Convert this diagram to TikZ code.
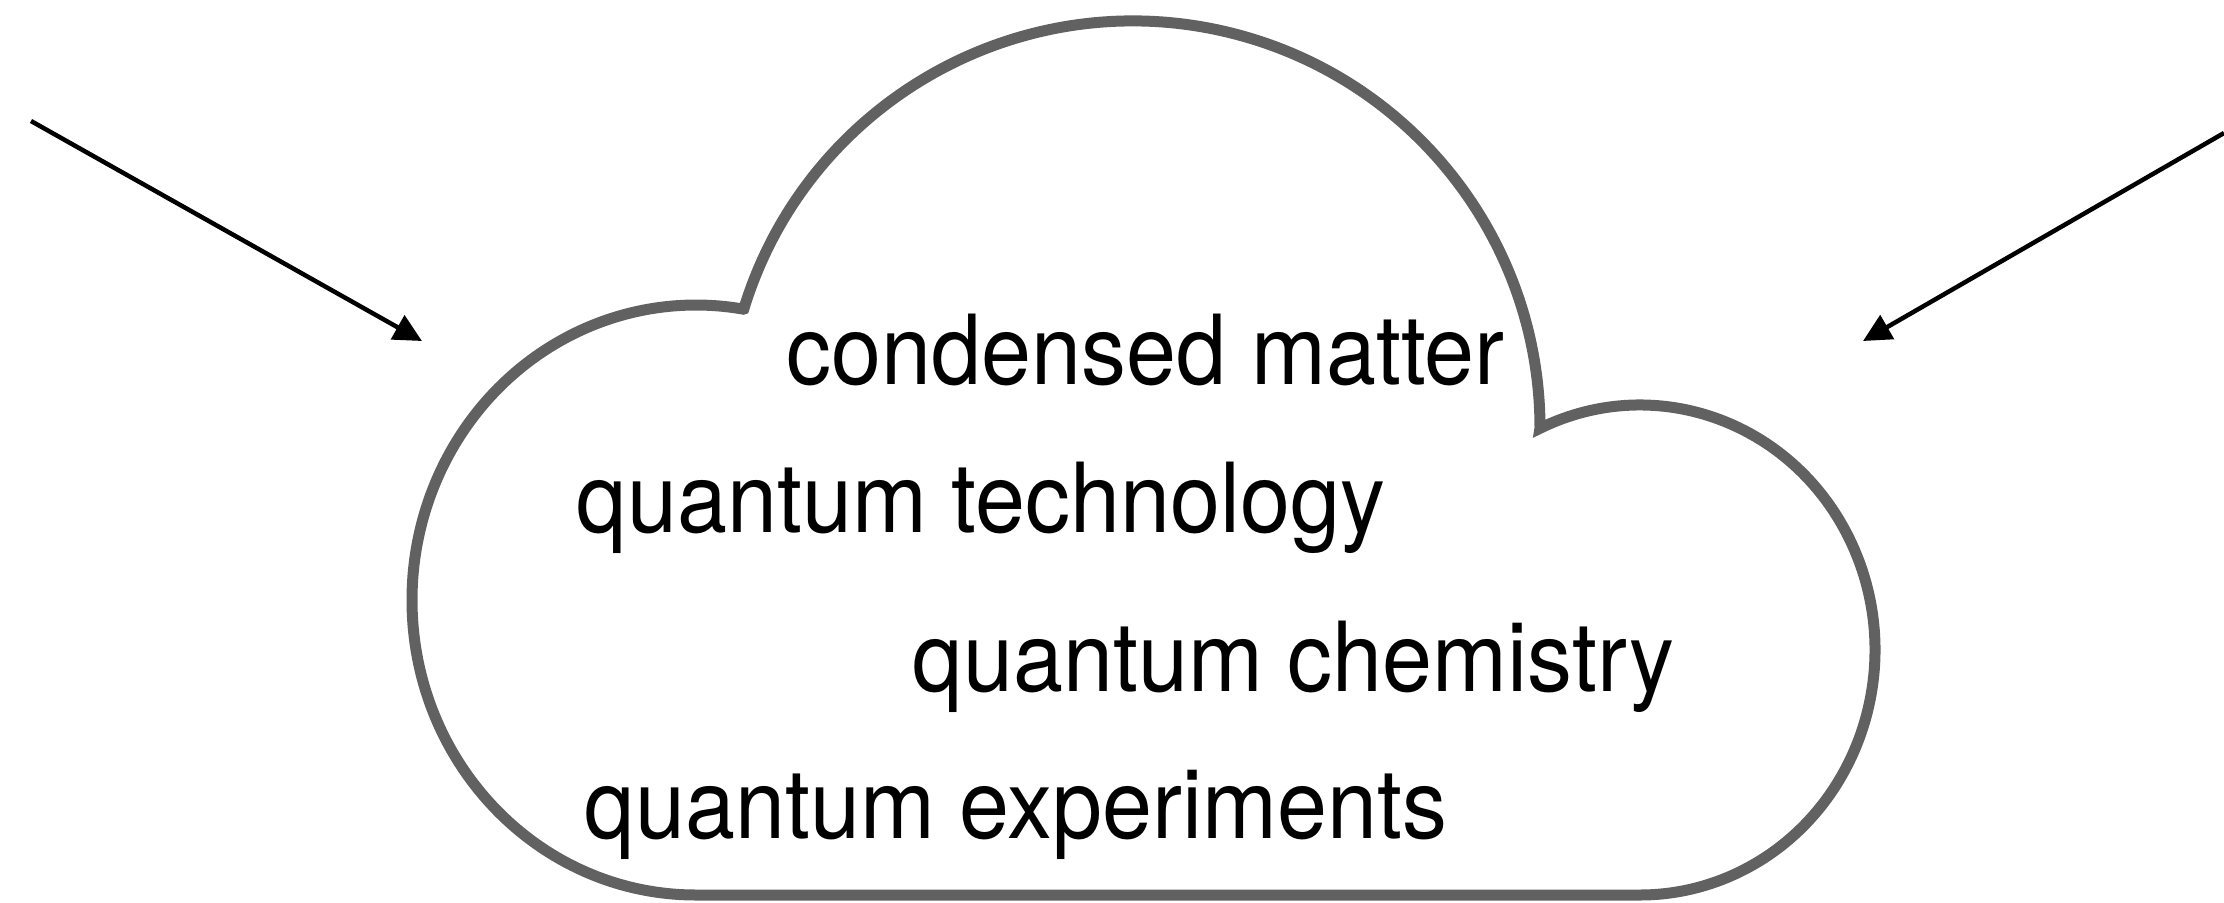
\documentclass[tikz,border=0pt]{standalone}
\usepackage{fontspec}
\setmainfont{TeX Gyre Heros}[FakeStretch=0.93]
\usepackage{tikz}
\usetikzlibrary{arrows.meta}
\definecolor{cloudgray}{HTML}{616161}

\begin{document}
\begin{tikzpicture}[
        cloudline/.style={draw=cloudgray, line width=0.11cm},
        pointer/.style={-{Triangle[length=0.28cm, width=0.27cm]}, line width=0.045cm},
        topic/.style={anchor=base west, inner sep=0pt, font=\fontsize{27.5}{30}\selectfont}
    ]
            \useasboundingbox (0,0) rectangle (22.24,9.02);
            % centres of the three cloud bumps
            \coordinate (lbump) at (6.96,3.02);
            \coordinate (tbump) at (11.33,4.74);
            \coordinate (rbump) at (16.40,2.52);
            \draw[cloudline] ([shift={(270:2.84 and 2.95)}]lbump) arc[start angle=270, end angle=80.4, x radius=2.84, y radius=2.95]
                -- ([shift={(163:4.07)}]tbump) arc[start angle=163, end angle=0, radius=4.07]
                -- ([shift={(115.2:2.35 and 2.45)}]rbump) arc[start angle=115.2, end angle=-90, x radius=2.35, y radius=2.45]
                -- cycle;
            \node[topic] (cm) at (7.86,5.18) {condensed matter};
            \node[topic] (qt) at (5.76,3.70) {quantum technology};
            \node[topic] (qc) at (9.12,2.11) {quantum chemistry};
            \node[topic] (qe) at (5.84,0.64) {quantum experiments};
            % arrows from outside
            \coordinate (lfrom) at (0.31,7.81);
            \coordinate (lto) at (4.22,5.61);
            \coordinate (rfrom) at (22.24,7.69);
            \coordinate (rto) at (18.63,5.61);
            \draw[pointer] (lfrom) -- (lto);
            \draw[pointer] (rfrom) -- (rto);
        \end{tikzpicture}
\end{document}
